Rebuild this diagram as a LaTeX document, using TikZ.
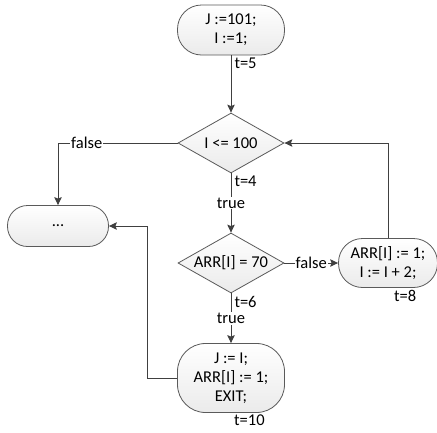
\documentclass[tikz,border=0pt]{standalone}
\usepackage{fontspec}
\setmainfont{Carlito}
\usepackage{xcolor}
\usetikzlibrary{shapes.geometric,arrows.meta,positioning,calc}
\definecolor{linegray}{HTML}{404040}
\definecolor{boxgray}{HTML}{5A5A5A}

\begin{document}
\begin{tikzpicture}[x=1pt,y=-1pt,
        every node/.style={font=\fontsize{16.5}{19}\selectfont},
        block/.style={draw=boxgray, line width=0.8pt, rounded corners=24pt, top color=white, bottom color=gray!16, align=center, minimum width=107pt, minimum height=50pt, inner sep=2pt},
        decision/.style={diamond, draw=boxgray, line width=0.8pt, aspect=1.77, inner sep=0pt, minimum width=106pt, minimum height=60pt, top color=white, bottom color=gray!16},
        flow/.style={draw=linegray, line width=1pt, -{Stealth[length=8pt,width=7.5pt,inset=1.5pt]}},
        note/.style={fill=white, inner sep=1pt},
        tlabel/.style={anchor=north west, inner sep=1pt, xshift=2pt, yshift=-1pt}]
        \fill[white] (0,0) rectangle (437,432);
        \useasboundingbox (0,0) rectangle (437,432);
        % nodes
        \node[block] (init) at (231,30) {J :=101;\\ I :=1;};
        \node[decision] (loop) at (231,143) {I <= 100};
        \node[decision] (check) at (231,263) {ARR[I] = 70};
        \node[block, minimum width=99pt, minimum height=49pt] (step) at (388,263) {ARR[I] := 1;\\ I := I + 2;};
        \node[block, minimum height=69pt, rounded corners=28pt] (found) at (231,378) {J := I;\\ ARR[I] := 1;\\ EXIT;};
        \node[block, minimum width=101pt, minimum height=41pt, rounded corners=20pt] (done) at (58,226) {...};
        % connectors
        \draw[flow] (init) -- node[tlabel, pos=0] {t=5} (loop);
        \draw[flow] (loop) -- node[tlabel, pos=0] {t=4} node[note] {true} (check);
        \draw[flow] (check) -- node[tlabel, pos=0] {t=6} node[note] {true} (found);
        \draw[flow] (check) -- node[note] {false} (step);
        \draw[flow] (loop.west) -| node[note, pos=0.38] {false} (done.north);
        \draw[flow] (step.north) |- (loop.east);
        \draw[flow] (found.west) -- ++(-30,0) |- (done.east);
        \node[tlabel] at ([xshift=3pt]step.south) {t=8};
        \node[tlabel] at (found.south) {t=10};
\end{tikzpicture}
\end{document}
